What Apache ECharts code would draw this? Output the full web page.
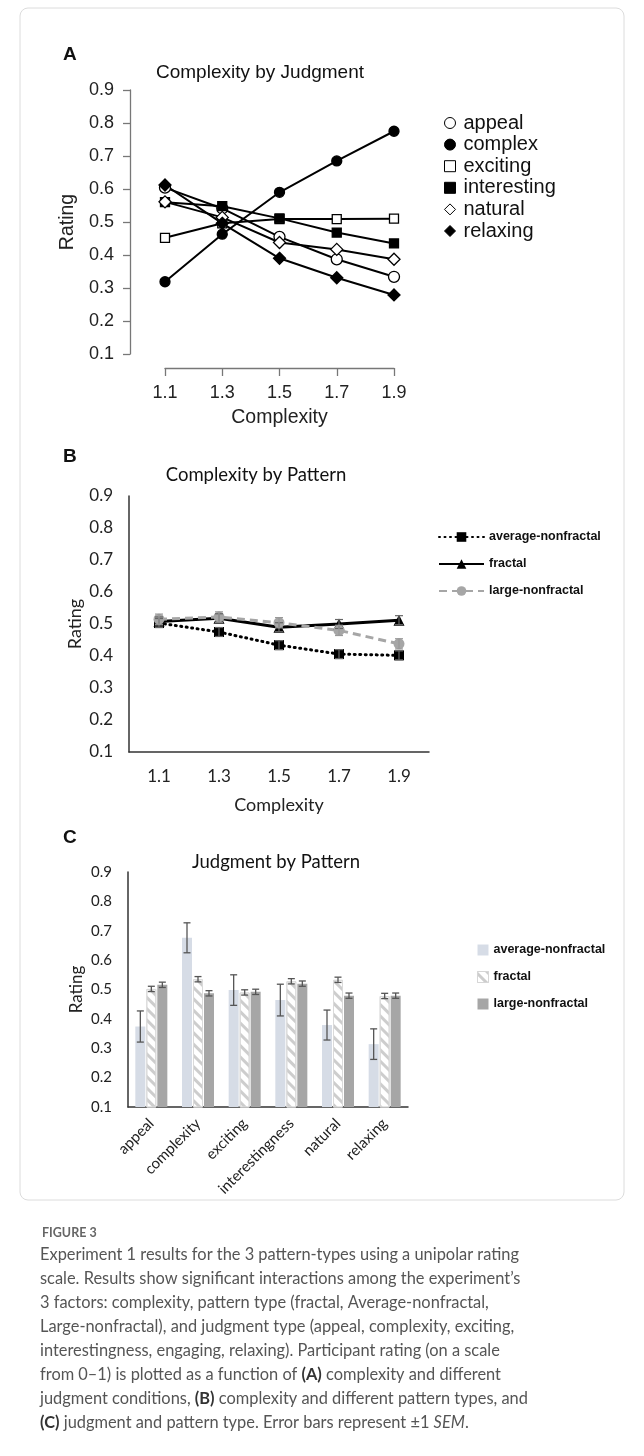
<!DOCTYPE html>
<html><head><meta charset="utf-8">
<script src="https://cdn.jsdelivr.net/npm/echarts@6/dist/echarts.min.js"></script>
<style>html,body{margin:0;padding:0;background:#fff}#c{width:644px;height:1456px}</style>
</head><body><div id="c"></div>
<script>
// ---------- Panel A: Complexity by Judgment ----------
const complexityLevels = ['1.1', '1.3', '1.5', '1.7', '1.9'];
const judgmentNames = ['appeal', 'complex', 'exciting', 'interesting', 'natural', 'relaxing'];
const appeal      = [0.604, 0.541, 0.455, 0.387, 0.334];
const complex     = [0.319, 0.463, 0.590, 0.685, 0.775];
const exciting    = [0.452, 0.496, 0.509, 0.509, 0.510];
const interesting = [0.560, 0.548, 0.511, 0.468, 0.435];
const natural     = [0.561, 0.514, 0.438, 0.417, 0.387];
const relaxing    = [0.612, 0.496, 0.390, 0.331, 0.279];

// ---------- Panel B: Complexity by Pattern ----------
const patternNames = ['average-nonfractal', 'fractal', 'large-nonfractal'];
const avgByComplexity     = [0.503, 0.475, 0.434, 0.406, 0.402];
const fractalByComplexity = [0.508, 0.518, 0.490, 0.500, 0.512];
const largeByComplexity   = [0.515, 0.522, 0.504, 0.480, 0.438];
const avgByComplexitySem     = [0.014, 0.014, 0.014, 0.014, 0.014];
const fractalByComplexitySem = [0.014, 0.014, 0.014, 0.014, 0.014];
const largeByComplexitySem   = [0.016, 0.016, 0.016, 0.016, 0.016];

// ---------- Panel C: Judgment by Pattern ----------
const judgmentCategories = ['appeal', 'complexity', 'exciting', 'interestingness', 'natural', 'relaxing'];
const avgByJudgment     = [0.374, 0.676, 0.498, 0.464, 0.379, 0.314];
const fractalByJudgment = [0.502, 0.535, 0.490, 0.528, 0.533, 0.478];
const largeByJudgment   = [0.516, 0.487, 0.492, 0.520, 0.479, 0.479];
const avgByJudgmentSem     = [0.053, 0.051, 0.052, 0.054, 0.051, 0.052];
const fractalByJudgmentSem = [0.009, 0.009, 0.009, 0.009, 0.009, 0.009];
const largeByJudgmentSem   = [0.009, 0.009, 0.009, 0.009, 0.009, 0.009];

const ratingMin = 0.1, ratingMax = 0.9, ratingStep = 0.1;

// ---------- caption ----------
const figureLabel = 'FIGURE 3';
const captionLines = [
  'Experiment 1 results for the 3 pattern-types using a unipolar rating',
  'scale. Results show significant interactions among the experiment\u2019s',
  '3 factors: complexity, pattern type (fractal, Average-nonfractal,',
  'Large-nonfractal), and judgment type (appeal, complexity, exciting,',
  'interestingness, engaging, relaxing). Participant rating (on a scale',
  'from 0\u20131) is plotted as a function of {b|(A)} complexity and different',
  'judgment conditions, {b|(B)} complexity and different pattern types, and',
  '{b|(C)} judgment and pattern type. Error bars represent \u00b11 {i|SEM}.'
];

const ARIAL = 'Liberation Sans, Arial, sans-serif';
const CAL = 'Lato, sans-serif';
const fmt = v => v.toFixed(1);

function lineA(name, data, symbol, filled, size) {
  return {
    type: 'line', name, data, xAxisIndex: 0, yAxisIndex: 0,
    symbol, symbolSize: size, showSymbol: true, animation: false,
    lineStyle: { color: '#000', width: 2 },
    itemStyle: { color: filled ? '#000' : '#fff', borderColor: '#000', borderWidth: 1.3 }
  };
}

function errSeries(axisIdx, means, sems, offset, color, capW, lw) {
  const data = means.map((m, i) => [i, m - sems[i], m + sems[i]]);
  return {
    type: 'custom', xAxisIndex: axisIdx, yAxisIndex: axisIdx, data, z: 10, silent: true,
    encode: { x: 0, y: [1, 2] }, animation: false,
    renderItem(params, api) {
      const x = api.value(0);
      const lo = api.coord([x, api.value(1)]);
      const hi = api.coord([x, api.value(2)]);
      const cx = lo[0] + offset;
      const st = { stroke: color, lineWidth: lw };
      return { type: 'group', children: [
        { type: 'line', shape: { x1: cx, y1: lo[1], x2: cx, y2: hi[1] }, style: st },
        { type: 'line', shape: { x1: cx - capW, y1: lo[1], x2: cx + capW, y2: lo[1] }, style: st },
        { type: 'line', shape: { x1: cx - capW, y1: hi[1], x2: cx + capW, y2: hi[1] }, style: st }
      ]};
    }
  };
}

const fractalDecal = { symbol: 'rect', color: '#cdcdcd', dashArrayX: [1, 0], dashArrayY: [2.5, 5], rotation: Math.PI / 4 };

const chart = echarts.init(document.getElementById('c'), null, { renderer: 'canvas' });

const option = {
  backgroundColor: '#fff',
  animation: false,
  grid: [
    { left: 165, top: 90, width: 229, height: 264 },
    { left: 129, top: 496, width: 300, height: 256 },
    { left: 128, top: 872, width: 280, height: 235 }
  ],
  xAxis: [
    { gridIndex: 0, type: 'category', data: complexityLevels, boundaryGap: false, offset: 14,
      axisLine: { lineStyle: { color: '#777', width: 1.3 } },
      axisTick: { show: true, length: 8, lineStyle: { color: '#777', width: 1.3 } },
      axisLabel: { margin: 16, fontSize: 18, fontFamily: ARIAL, color: '#222' },
      name: 'Complexity', nameLocation: 'middle', nameGap: 40,
      nameTextStyle: { fontSize: 19.5, fontFamily: ARIAL, color: '#222' } },
    { gridIndex: 1, type: 'category', data: complexityLevels, boundaryGap: true,
      axisLine: { lineStyle: { color: '#333', width: 1.5 } }, axisTick: { show: false },
      axisLabel: { margin: 16, fontSize: 17, fontFamily: CAL, color: '#222' },
      name: 'Complexity', nameLocation: 'middle', nameGap: 44,
      nameTextStyle: { fontSize: 18, fontFamily: CAL, color: '#222' } },
    { gridIndex: 2, type: 'category', data: judgmentCategories, boundaryGap: true,
      axisLine: { lineStyle: { color: '#333', width: 1.5 } }, axisTick: { show: false },
      axisLabel: { margin: 14, fontSize: 15, fontFamily: CAL, color: '#222', rotate: 45, interval: 0 } }
  ],
  yAxis: [
    { gridIndex: 0, type: 'value', min: ratingMin, max: ratingMax, interval: ratingStep, offset: 35,
      axisLine: { show: true, lineStyle: { color: '#777', width: 1.3 } },
      axisTick: { show: true, length: 7, lineStyle: { color: '#777', width: 1.3 } },
      splitLine: { show: false },
      axisLabel: { margin: 16, fontSize: 18, fontFamily: ARIAL, color: '#222', formatter: fmt },
      name: 'Rating', nameLocation: 'middle', nameGap: 52,
      nameTextStyle: { fontSize: 19.5, fontFamily: ARIAL, color: '#222' } },
    { gridIndex: 1, type: 'value', min: ratingMin, max: ratingMax, interval: ratingStep,
      axisLine: { show: true, lineStyle: { color: '#333', width: 1.5 } },
      axisTick: { show: false }, splitLine: { show: false },
      axisLabel: { margin: 16, fontSize: 17, fontFamily: CAL, color: '#222', formatter: fmt },
      name: 'Rating', nameLocation: 'middle', nameGap: 45,
      nameTextStyle: { fontSize: 18, fontFamily: CAL, color: '#222' } },
    { gridIndex: 2, type: 'value', min: ratingMin, max: ratingMax, interval: ratingStep,
      axisLine: { show: true, lineStyle: { color: '#333', width: 1.5 } },
      axisTick: { show: false }, splitLine: { show: false },
      axisLabel: { margin: 16, fontSize: 15, fontFamily: CAL, color: '#222', formatter: fmt },
      name: 'Rating', nameLocation: 'middle', nameGap: 43,
      nameTextStyle: { fontSize: 17, fontFamily: CAL, color: '#222' } }
  ],
  legend: [
    { orient: 'vertical', left: 439, top: 108, itemWidth: 11, itemHeight: 11, itemGap: 1.6,
      selectedMode: false,
      textStyle: { fontSize: 20, fontFamily: ARIAL, color: '#111', lineHeight: 20, padding: [0, 0, 0, 3] },
      data: [
        { name: judgmentNames[0], icon: 'circle', itemStyle: { color: '#fff', borderColor: '#000', borderWidth: 1 } },
        { name: judgmentNames[1], icon: 'circle', itemStyle: { color: '#000', borderColor: '#000', borderWidth: 1 } },
        { name: judgmentNames[2], icon: 'rect', itemStyle: { color: '#fff', borderColor: '#000', borderWidth: 1 } },
        { name: judgmentNames[3], icon: 'rect', itemStyle: { color: '#000', borderColor: '#000', borderWidth: 1 } },
        { name: judgmentNames[4], icon: 'diamond', itemStyle: { color: '#fff', borderColor: '#000', borderWidth: 1 } },
        { name: judgmentNames[5], icon: 'diamond', itemStyle: { color: '#000', borderColor: '#000', borderWidth: 1 } }
      ] },
    { orient: 'vertical', left: 433, top: 525, itemWidth: 45, itemHeight: 12, itemGap: 13,
      selectedMode: false,
      textStyle: { fontSize: 12.5, fontWeight: 'bold', fontFamily: ARIAL, color: '#111', lineHeight: 14 },
      data: patternNames.slice() },
    { orient: 'vertical', left: 472, top: 938, itemWidth: 11, itemHeight: 11, itemGap: 13,
      selectedMode: false,
      textStyle: { fontSize: 12.5, fontWeight: 'bold', fontFamily: ARIAL, color: '#111', lineHeight: 14 },
      data: [
        { name: patternNames[0], icon: 'rect', itemStyle: { color: '#d6dce6', borderWidth: 0 } },
        { name: patternNames[1], icon: 'rect', itemStyle: { color: '#fff', borderColor: '#d6d6d6', borderWidth: 1, decal: fractalDecal } },
        { name: patternNames[2], icon: 'rect', itemStyle: { color: '#a6a6a6', borderWidth: 0 } }
      ] }
  ],
  series: [
    // Panel A
    lineA(judgmentNames[0], appeal, 'circle', false, 11),
    lineA(judgmentNames[1], complex, 'circle', true, 10),
    lineA(judgmentNames[2], exciting, 'rect', false, 9),
    lineA(judgmentNames[3], interesting, 'rect', true, 9),
    lineA(judgmentNames[4], natural, 'diamond', false, 12),
    lineA(judgmentNames[5], relaxing, 'diamond', true, 12),
    // Panel B
    { type: 'line', name: patternNames[0], data: avgByComplexity, xAxisIndex: 1, yAxisIndex: 1,
      symbol: 'rect', symbolSize: 10, color: '#000',
      lineStyle: { color: '#000', width: 3, type: [1, 4.5], cap: 'round' }, itemStyle: { color: '#000' } },
    { type: 'line', name: patternNames[1], data: fractalByComplexity, xAxisIndex: 1, yAxisIndex: 1,
      symbol: 'triangle', symbolSize: 11, color: '#000',
      lineStyle: { color: '#000', width: 3 }, itemStyle: { color: '#000' } },
    { type: 'line', name: patternNames[2], data: largeByComplexity, xAxisIndex: 1, yAxisIndex: 1,
      symbol: 'circle', symbolSize: 11, color: '#a6a6a6',
      lineStyle: { color: '#a6a6a6', width: 3, type: [8, 5] }, itemStyle: { color: '#a6a6a6' } },
    errSeries(1, avgByComplexity, avgByComplexitySem, 0, '#666', 4, 1.2),
    errSeries(1, fractalByComplexity, fractalByComplexitySem, 0, '#666', 4, 1.2),
    errSeries(1, largeByComplexity, largeByComplexitySem, 0, '#999', 4, 1.2),
    // Panel C
    { type: 'bar', name: patternNames[0], data: avgByJudgment, xAxisIndex: 2, yAxisIndex: 2,
      barWidth: 10, barGap: '10%', itemStyle: { color: '#d6dce6' } },
    { type: 'bar', name: patternNames[1], data: fractalByJudgment, xAxisIndex: 2, yAxisIndex: 2,
      barWidth: 10, barGap: '10%', itemStyle: { color: '#fff', borderColor: '#dadada', borderWidth: 1, decal: fractalDecal } },
    { type: 'bar', name: patternNames[2], data: largeByJudgment, xAxisIndex: 2, yAxisIndex: 2,
      barWidth: 10, barGap: '10%', itemStyle: { color: '#a6a6a6' } },
    errSeries(2, avgByJudgment, avgByJudgmentSem, -11, '#555', 3.5, 1.3),
    errSeries(2, fractalByJudgment, fractalByJudgmentSem, 0, '#555', 3.5, 1.3),
    errSeries(2, largeByJudgment, largeByJudgmentSem, 11, '#555', 3.5, 1.3)
  ],
  graphic: [
    { type: 'rect', shape: { x: 20, y: 8, width: 604, height: 1192, r: 8 }, style: { fill: 'none', stroke: '#dcdcdc', lineWidth: 1 }, silent: true },
    { type: 'text', x: 63, y: 55, style: { text: 'A', fontSize: 19, fontWeight: 'bold', fontFamily: ARIAL, fill: '#111', align: 'left', verticalAlign: 'middle' } },
    { type: 'text', x: 63, y: 457, style: { text: 'B', fontSize: 19, fontWeight: 'bold', fontFamily: ARIAL, fill: '#111', align: 'left', verticalAlign: 'middle' } },
    { type: 'text', x: 63, y: 838, style: { text: 'C', fontSize: 19, fontWeight: 'bold', fontFamily: ARIAL, fill: '#111', align: 'left', verticalAlign: 'middle' } },
    { type: 'text', x: 260, y: 73, style: { text: 'Complexity by Judgment', fontSize: 19, fontFamily: ARIAL, fill: '#111', align: 'center', verticalAlign: 'middle' } },
    { type: 'text', x: 256, y: 475, style: { text: 'Complexity by Pattern', fontSize: 18.5, fontFamily: CAL, fill: '#111', align: 'center', verticalAlign: 'middle' } },
    { type: 'text', x: 276, y: 862, style: { text: 'Judgment by Pattern', fontSize: 18.5, fontFamily: CAL, fill: '#111', align: 'center', verticalAlign: 'middle' } },
    { type: 'text', x: 42, y: 1233, style: { text: figureLabel, fontSize: 12.5, fontWeight: 'bold', fontFamily: CAL, fill: '#666', align: 'left', verticalAlign: 'middle' } }
  ].concat(captionLines.map((t, i) => ({
    type: 'text', x: 40, y: 1255 + i * 24,
    style: {
      text: t, fontSize: 16.4, fontFamily: CAL, fill: '#555', align: 'left', verticalAlign: 'middle',
      rich: {
        b: { fontSize: 16.4, fontFamily: CAL, fontWeight: 'bold', fill: '#333' },
        i: { fontSize: 16.4, fontFamily: CAL, fontStyle: 'italic', fill: '#555' }
      }
    }
  })))
};

chart.setOption(option);
</script>
</body></html>
